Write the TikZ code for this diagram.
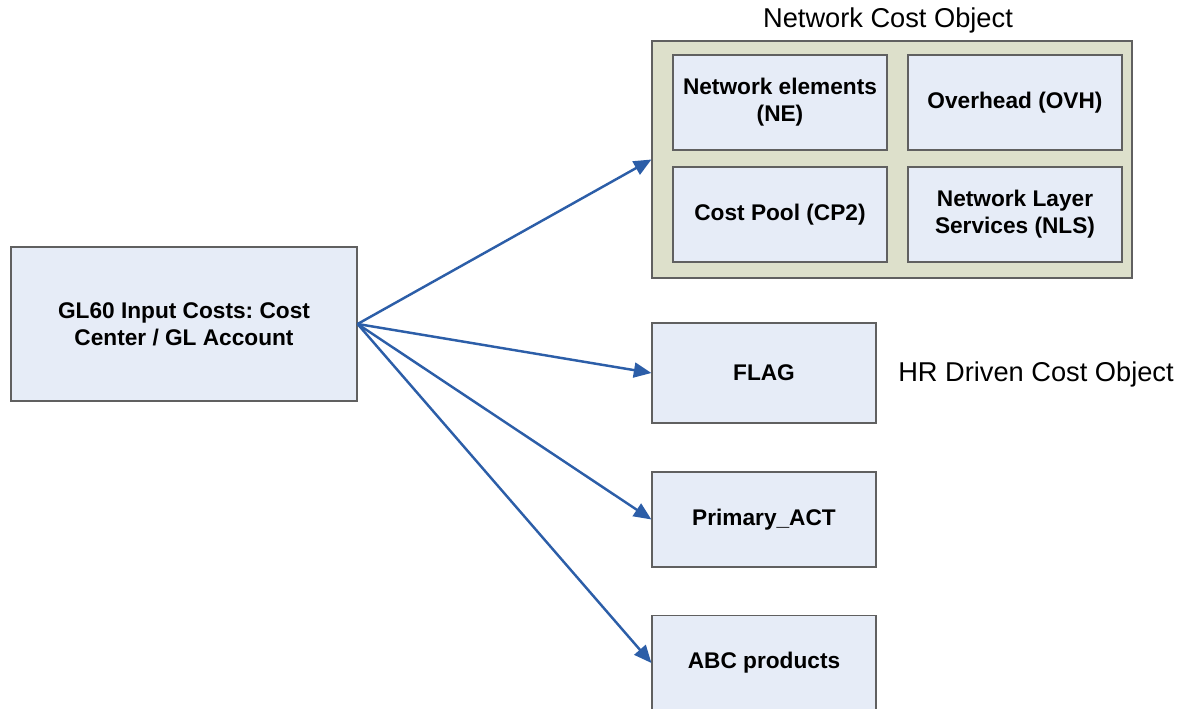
\documentclass[tikz,border=0pt]{standalone}
\usepackage{fontspec}
\setmainfont{Liberation Sans}
\usepackage{tikz}
\usetikzlibrary{arrows.meta}
\frenchspacing
\definecolor{boxfill}{RGB}{230,236,247}
\definecolor{boxline}{RGB}{96,96,96}
\definecolor{groupfill}{RGB}{221,224,203}
\definecolor{arrowcol}{RGB}{44,94,168}
\tikzset{costbox/.style={draw=boxline, line width=0.7pt, fill=boxfill, align=center, inner sep=2pt,
    font=\fontsize{12.9}{15.5}\selectfont\bfseries}}
\tikzset{groupbox/.style={draw=boxline, line width=0.7pt, fill=groupfill, inner sep=0pt}}
\tikzset{flow/.style={draw=arrowcol, line width=1.4pt, -{Triangle[length=10pt,width=8.5pt]}}}
\tikzset{caption/.style={font=\fontsize{15.5}{18}\selectfont}}

\begin{document}
\begin{tikzpicture}[x=0.02cm, y=-0.02cm]
\useasboundingbox (0,0) rectangle (1184,709);
\node[caption] (netlbl) at (888,20) {Network Cost Object};
\node[groupbox, minimum width=9.6cm, minimum height=4.74cm] (net) at (892,159.5) {};
\node[costbox, minimum width=4.28cm, minimum height=1.9cm] (ne) at (780,102.5) {Network elements\\(NE)};
\node[costbox, minimum width=4.28cm, minimum height=1.9cm] (ovh) at (1015,102.5) {Overhead (OVH)};
\node[costbox, minimum width=4.28cm, minimum height=1.9cm] (cp) at (780,214.5) {Cost Pool (CP2)};
\node[costbox, minimum width=4.28cm, minimum height=1.9cm] (nls) at (1015,214.5) {Network Layer\\Services (NLS)};
\node[costbox, minimum width=6.92cm, minimum height=3.08cm] (gl) at (184,324) {GL60 Input Costs: Cost\\Center / GL Account};
\node[costbox, minimum width=4.48cm, minimum height=2cm] (flag) at (764,373) {FLAG};
\node[costbox, minimum width=4.48cm, minimum height=1.9cm] (act) at (764,519.5) {Primary\_ACT};
\node[costbox, minimum width=4.48cm, minimum height=1.9cm] (abc) at (764,663) {ABC products};
\node[caption] (hrlbl) at (1036,374) {HR Driven Cost Object};
% connectors
\draw[flow] (gl.east) -- (net.west);
\draw[flow] (gl.east) -- (flag.west);
\draw[flow] (gl.east) -- (act.west);
\draw[flow] (gl.east) -- (abc.west);
\end{tikzpicture}
\end{document}
